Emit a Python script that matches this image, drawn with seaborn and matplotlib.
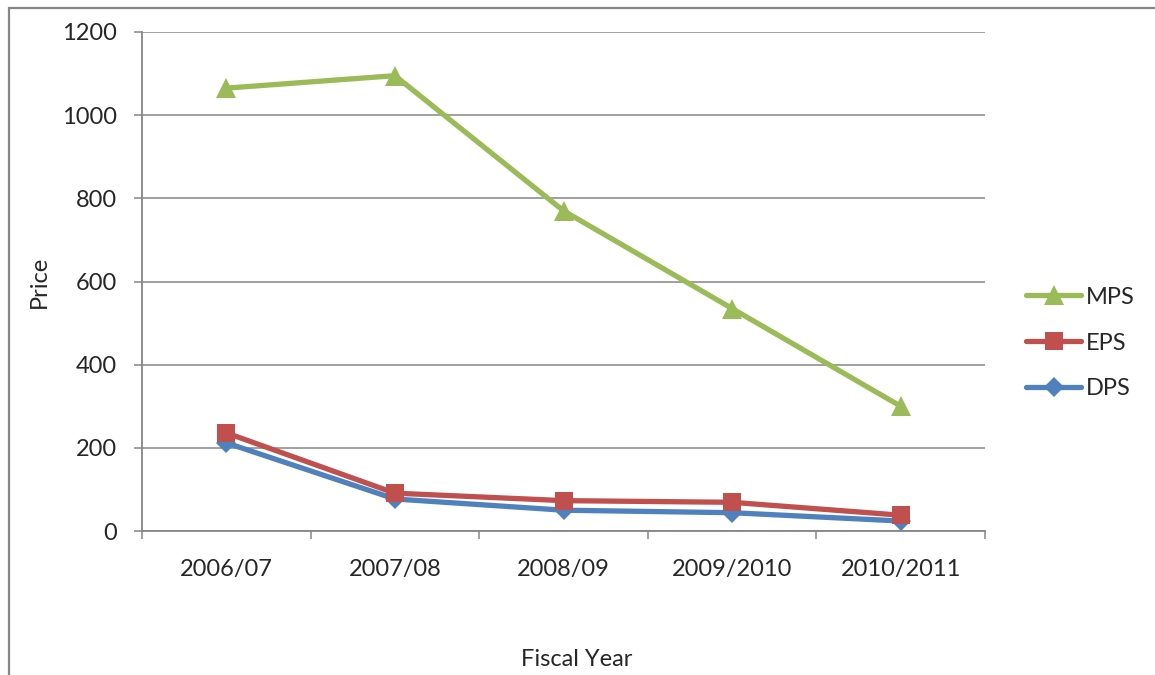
import matplotlib
matplotlib.use("Agg")
import matplotlib.pyplot as plt
from matplotlib.patches import Rectangle
from matplotlib.ticker import FixedLocator
import pandas as pd
import seaborn as sns

# Per-share figures by fiscal year
years = ["2006/07", "2007/08", "2008/09", "2009/2010", "2010/2011"]
mps = [1065, 1095, 770, 535, 300]
eps = [236, 91, 73, 69, 38]
dps = [212, 77, 50, 44, 24]

series_names = ["MPS", "EPS", "DPS"]
colors = {"MPS": "#9BBB59", "EPS": "#C0504D", "DPS": "#4F81BD"}
markers = {"MPS": "^", "EPS": "s", "DPS": "D"}
marker_sizes = {"MPS": 14, "EPS": 13, "DPS": 10}

df = pd.DataFrame({
    "year": years * 3,
    "value": mps + eps + dps,
    "series": ["MPS"] * 5 + ["EPS"] * 5 + ["DPS"] * 5,
})

sns.set_style("white")
plt.rcParams["font.family"] = ["Lato", "DejaVu Sans"]
plt.rcParams["font.size"] = 17

grey = "#868686"

fig = plt.figure(figsize=(11.55, 6.75), dpi=100)
ax = fig.add_axes([142 / 1155, 1 - 531 / 675, 843 / 1155, 499 / 675])

# draw back to front so EPS sits over DPS and MPS on top
sns.lineplot(
    data=df, x="year", y="value", hue="series", style="series",
    hue_order=["DPS", "EPS", "MPS"], style_order=["DPS", "EPS", "MPS"],
    palette=colors, markers=markers, dashes=False, sort=False,
    linewidth=3.8, markersize=13, markeredgewidth=0, ax=ax,
)
for name, line in zip(["DPS", "EPS", "MPS"], ax.get_lines()[:3]):
    line.set_markersize(marker_sizes[name])
    line.set_markeredgewidth(0)

handles, labels = ax.get_legend_handles_labels()
hmap = dict(zip(labels, handles))
ax.get_legend().remove()
ordered = []
for name in series_names:
    h = hmap[name]
    h.set_linewidth(3.8)
    h.set_markersize(marker_sizes[name])
    h.set_markeredgewidth(0)
    ordered.append(h)
fig.legend(ordered, series_names, loc="center left",
           bbox_to_anchor=(1026 / 1155, 1 - 343 / 675), frameon=False,
           borderpad=0, borderaxespad=0, handlelength=2.35,
           handletextpad=0.2, labelspacing=1.05, fontsize=17)

ax.set_xlim(-0.5, 4.5)
ax.set_ylim(0, 1200)
ax.set_yticks(range(0, 1201, 200))
ax.yaxis.grid(True, color=grey, linewidth=1.1)
ax.xaxis.grid(False)
ax.set_axisbelow(True)

for side in ("top", "right"):
    ax.spines[side].set_visible(False)
for side in ("left", "bottom"):
    ax.spines[side].set_color(grey)
    ax.spines[side].set_linewidth(1.3)

ax.tick_params(axis="y", which="major", direction="out", length=6,
               color=grey, width=1.1, pad=12, left=True, labelsize=17)
ax.tick_params(axis="x", which="major", length=0, pad=20, labelsize=17)
ax.xaxis.set_minor_locator(FixedLocator([-0.5, 0.5, 1.5, 2.5, 3.5, 4.5]))
ax.tick_params(axis="x", which="minor", direction="out", length=6,
               color=grey, width=1.1, bottom=True)

ax.set_xlabel("Fiscal Year", fontsize=17)
ax.set_ylabel("Price", fontsize=17)
ax.xaxis.set_label_coords(0.516, -0.236)
ax.yaxis.set_label_coords(-0.109, 0.5)

# outer chart border
fig.add_artist(Rectangle((8.5 / 1155, -0.05), 1.2, 1.05 - 8.5 / 675,
                         transform=fig.transFigure, fill=False,
                         edgecolor=grey, linewidth=1.6))

fig.savefig("out.png", dpi=100)
